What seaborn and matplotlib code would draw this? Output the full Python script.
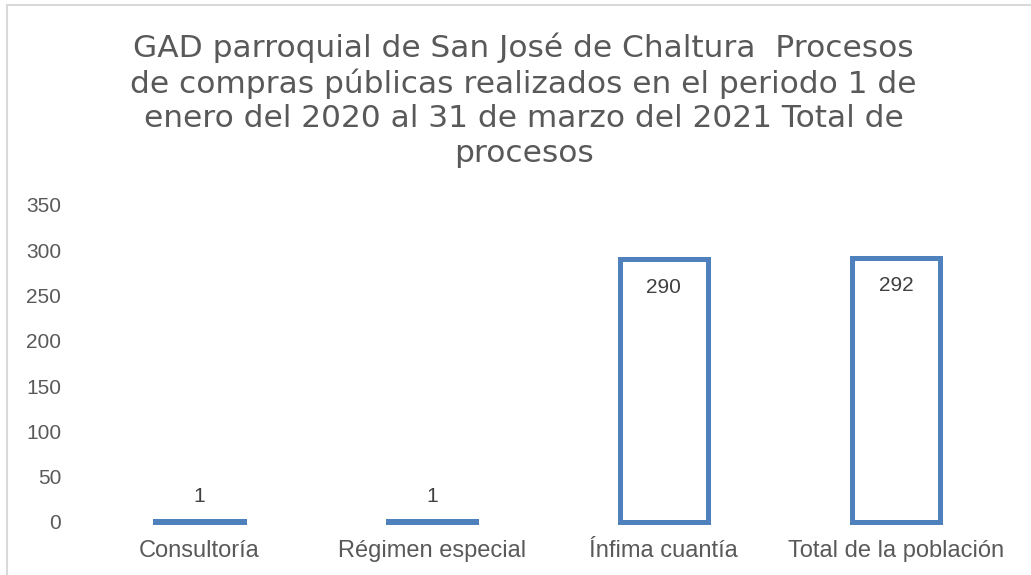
import matplotlib
matplotlib.use('Agg')
import matplotlib.pyplot as plt
import seaborn as sns
from matplotlib.patches import Rectangle

# data
categorias = ['Consultoría', 'Régimen especial', 'Ínfima cuantía', 'Total de la población']
procesos = [1, 1, 290, 292]
y_ticks = [0, 50, 100, 150, 200, 250, 300, 350]

titulo = ('GAD parroquial de San José de Chaltura  Procesos\n'
          'de compras públicas realizados en el periodo 1 de\n'
          'enero del 2020 al 31 de marzo del 2021 Total de\n'
          'procesos')

sns.set_style('white')
plt.rcParams['font.family'] = ['Liberation Sans', 'DejaVu Sans']

gris = '#595959'
azul = '#4F81BD'

fig = plt.figure(figsize=(10.31, 5.75), dpi=100)
ax = fig.add_axes([0.081, 0.0922, 0.9006, 0.5513])

sns.barplot(x=categorias, y=procesos, ax=ax, color='white', saturation=1,
            edgecolor=azul, linewidth=3.6, width=0.38)

for p in ax.patches:
    p.set_clip_on(False)

# value labels: inside the top of tall bars, above the short ones
for p, v in zip(ax.patches, procesos):
    cx = p.get_x() + p.get_width() / 2
    if v > 50:
        ax.annotate(str(v), (cx, v), xytext=(0, -28), textcoords='offset pixels',
                    ha='center', va='center', fontsize=15, color='#404040')
    else:
        ax.annotate(str(v), (cx, v), xytext=(0, 25), textcoords='offset pixels',
                    ha='center', va='center', fontsize=15, color='#404040')

ax.set_ylim(0, 350)
ax.set_xlim(-0.5, 3.5)
ax.set_yticks(y_ticks)
ax.tick_params(axis='y', length=0, pad=16, labelsize=15, labelcolor=gris)
ax.tick_params(axis='x', length=0, pad=13, labelsize=17, labelcolor=gris)
sns.despine(ax=ax, left=True, bottom=True)
ax.grid(False)

# the original title is wider-spaced than Arial, DejaVu gets closer
fig.text(0.508, 0.826, titulo, ha='center', va='center', fontsize=22.5,
         color=gris, linespacing=1.23, family='DejaVu Sans')

# chart frame (cropped on right and bottom)
fig.patches.append(Rectangle((7 / 1031, -0.05), 1.1, 1 - 5 / 575 + 0.05,
                             transform=fig.transFigure, fill=False,
                             edgecolor='#D9D9D9', linewidth=1.5))

fig.savefig('out.png', dpi=100)
